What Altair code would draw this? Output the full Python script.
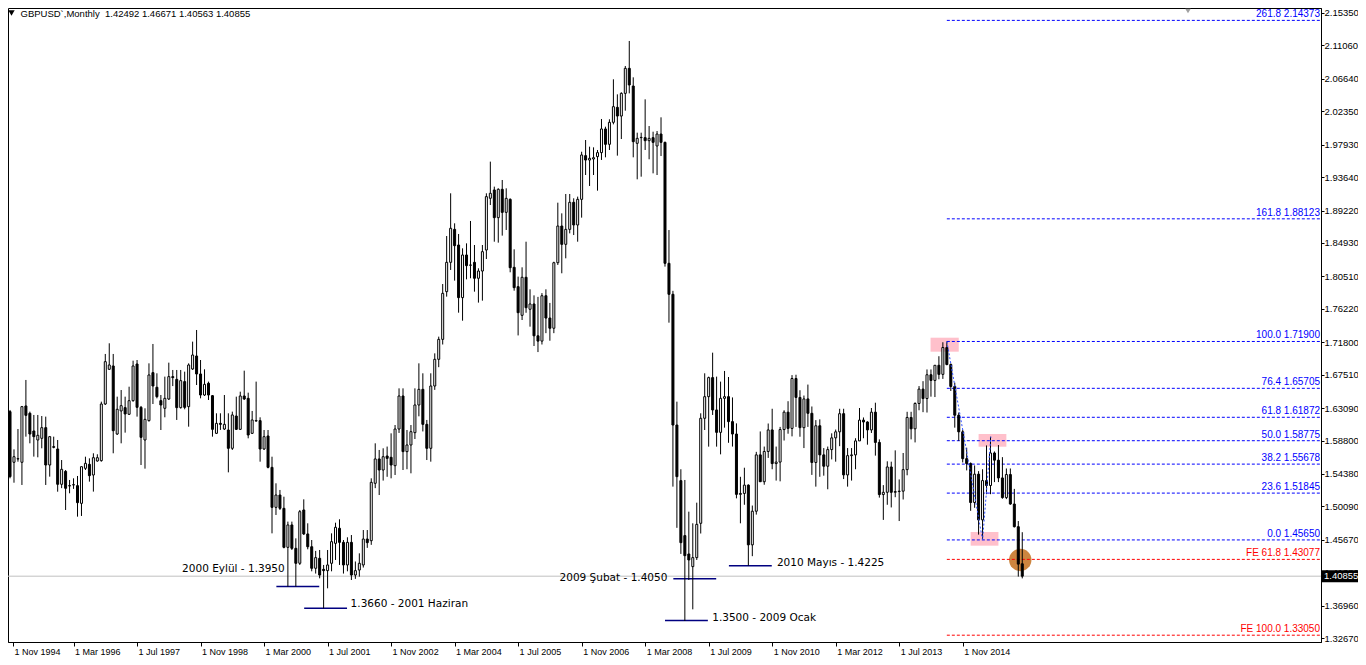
import altair as alt
import pandas as pd

# ---------------- monthly GBPUSD candles, Nov 1994 .. Feb 2016 ----------------
opens = [
    1.6262, 1.5592,  # 1994 Nov-Dec
    1.5636, 1.5592, 1.6337, 1.6240, 1.6006, 1.5887, 1.5909, 1.6050, 1.5556, 1.5799, 1.5768, 1.5301,  # 1995
    1.5472, 1.5283, 1.5292, 1.5283, 1.5049, 1.5512, 1.5565, 1.5424, 1.5609, 1.5614, 1.6363, 1.6822,  # 1996
    1.6866, 1.5966, 1.6271, 1.6315, 1.6227, 1.6407, 1.6892, 1.6319, 1.5887, 1.6143, 1.6778, 1.6584,  # 1997
    1.6407, 1.6306, 1.6429, 1.6725, 1.6689, 1.6315, 1.6659, 1.6328, 1.6826, 1.6998, 1.6760, 1.6482,  # 1998
    1.6637, 1.6473, 1.5975, 1.6107, 1.6032, 1.6019, 1.5777, 1.6204, 1.6028, 1.6469, 1.6438, 1.5975,  # 1999
    1.6143, 1.6143, 1.5768, 1.5940, 1.5525, 1.4996, 1.5159, 1.4983, 1.4467, 1.4763, 1.4454, 1.4256,  # 2000
    1.4961, 1.4644, 1.4475, 1.4190, 1.4322, 1.4176, 1.4159, 1.4256, 1.4520, 1.4719, 1.4533, 1.4234,  # 2001
    1.4533, 1.4101, 1.4167, 1.4234, 1.4577, 1.4555, 1.5314, 1.5636, 1.5490, 1.5675, 1.5658, 1.5547,  # 2002
    1.6032, 1.6469, 1.5733, 1.5821, 1.5984, 1.6350, 1.6557, 1.6094, 1.5777, 1.6601, 1.6954, 1.7218,  # 2003
    1.7849, 1.8237, 1.8673, 1.8466, 1.7770, 1.8334, 1.8198, 1.8237, 1.8026, 1.8122, 1.8400, 1.9084,  # 2004
    1.9194, 1.8828, 1.9203, 1.8898, 1.9070, 1.8171, 1.7915, 1.7536, 1.8039, 1.7616, 1.7686, 1.7265,  # 2005
    1.7195, 1.7795, 1.7500, 1.7365, 1.8232, 1.8717, 1.8475, 1.8673, 1.9031, 1.8731, 1.9070, 1.9648,  # 2006
    1.9590, 1.9604, 1.9635, 1.9688, 2.0001, 1.9798, 2.0089, 2.0287, 2.0172, 2.0472, 2.0803, 2.0569,  # 2007
    1.9811, 1.9886, 1.9886, 1.9846, 1.9886, 1.9776, 1.9934, 1.9824, 1.8224, 1.7814, 1.6085, 1.5349,  # 2008
    1.4622, 1.4379, 1.4212, 1.4331, 1.4785, 1.6174, 1.6460, 1.6712, 1.6284, 1.5988, 1.6438, 1.6460,  # 2009
    1.6130, 1.5966, 1.5168, 1.5180, 1.5290, 1.4500, 1.4945, 1.5690, 1.5335, 1.5735, 1.6020, 1.5575,  # 2010
    1.5595, 1.6025, 1.6255, 1.6040, 1.6700, 1.6450, 1.6050, 1.6430, 1.6240, 1.5590, 1.6075, 1.5690,  # 2011
    1.5540, 1.5760, 1.5915, 1.5995, 1.6235, 1.5425, 1.5680, 1.5690, 1.5875, 1.6150, 1.6125, 1.6020,  # 2012
    1.6255, 1.5855, 1.5165, 1.5195, 1.5530, 1.5195, 1.5205, 1.5210, 1.5495, 1.6185, 1.6035, 1.6370,  # 2013
    1.6560, 1.6435, 1.6750, 1.6675, 1.6875, 1.6755, 1.7110, 1.6885, 1.6595, 1.6215, 1.5995, 1.5640,  # 2014
    1.5575, 1.5060, 1.5435, 1.4830, 1.5350, 1.5285, 1.5715, 1.5620, 1.5385, 1.5125, 1.5430, 1.5040,  # 2015
    1.4740, 1.42492,  # 2016 Jan-Feb
]
highs = [
    1.6284, 1.5763,
    1.6032, 1.6337, 1.6681, 1.6262, 1.6218, 1.6218, 1.6204, 1.6196, 1.5940, 1.5931, 1.5887, 1.5622,
    1.5490, 1.5358, 1.5380, 1.5411, 1.5534, 1.5666, 1.5644, 1.5711, 1.5698, 1.6394, 1.7025, 1.7166,
    1.7025, 1.6460, 1.6548, 1.6460, 1.6592, 1.6936, 1.6945, 1.6337, 1.6306, 1.6901, 1.7157, 1.6769,
    1.6482, 1.6725, 1.6910, 1.6813, 1.6813, 1.6813, 1.6791, 1.6901, 1.7188, 1.7342, 1.6945, 1.6822,
    1.6659, 1.6482, 1.6240, 1.6240, 1.6482, 1.6240, 1.6262, 1.6460, 1.6526, 1.6804, 1.6513, 1.6271,
    1.6659, 1.6187, 1.6019, 1.6019, 1.5666, 1.5314, 1.5226, 1.5137, 1.4807, 1.4807, 1.4586, 1.4961,
    1.5102, 1.4785, 1.4564, 1.4420, 1.4432, 1.4234, 1.4432, 1.4652, 1.4793, 1.4838, 1.4564, 1.4600,
    1.4630, 1.4280, 1.4388, 1.4696, 1.4696, 1.5380, 1.5843, 1.5755, 1.5777, 1.5800, 1.5975, 1.6085,
    1.6570, 1.6570, 1.6019, 1.6085, 1.6570, 1.6901, 1.6769, 1.6152, 1.6769, 1.7033, 1.7254, 1.7950,
    1.8585, 1.9150, 1.8753, 1.8612, 1.8422, 1.8488, 1.8784, 1.8466, 1.8158, 1.8466, 1.9150, 1.9569,
    1.9238, 1.9216, 1.9326, 1.9216, 1.9083, 1.8409, 1.8048, 1.8171, 1.8510, 1.7880, 1.7800, 1.7780,
    1.7830, 1.7880, 1.7700, 1.8245, 1.9026, 1.8885, 1.9141, 1.9141, 1.9084, 1.9106, 1.9700, 1.9855,
    1.9767, 1.9758, 1.9723, 2.0133, 2.0031, 2.0129, 2.0658, 2.0459, 2.0486, 2.0834, 2.1165, 2.0684,
    1.9952, 1.9952, 2.0393, 2.0040, 1.9965, 1.9974, 2.0155, 1.9833, 1.8664, 1.7860, 1.6394, 1.5500,
    1.5358, 1.4939, 1.4785, 1.5058, 1.6240, 1.6769, 1.6725, 1.7042, 1.6725, 1.6659, 1.6800, 1.6720,
    1.6450, 1.6107, 1.5400, 1.5520, 1.5300, 1.5020, 1.5730, 1.6000, 1.5800, 1.6105, 1.6300, 1.5800,
    1.6060, 1.6280, 1.6400, 1.6745, 1.6750, 1.6545, 1.6475, 1.6620, 1.6330, 1.6150, 1.6160, 1.5780,
    1.5800, 1.5975, 1.6025, 1.6300, 1.6300, 1.5780, 1.5780, 1.5910, 1.6310, 1.6185, 1.6135, 1.6310,
    1.6380, 1.5895, 1.5290, 1.5605, 1.5600, 1.5750, 1.5365, 1.5715, 1.6260, 1.6260, 1.6385, 1.6600,
    1.6665, 1.6820, 1.6820, 1.6875, 1.6995, 1.7180, 1.7190, 1.6900, 1.6645, 1.6250, 1.6020, 1.5785,
    1.5590, 1.5550, 1.5475, 1.5500, 1.5815, 1.5930, 1.5735, 1.5820, 1.5660, 1.5510, 1.5510, 1.5240,
    1.4815, 1.46671,
]
lows = [
    1.5380, 1.5322,
    1.5600, 1.5292, 1.5931, 1.5843, 1.5667, 1.5658, 1.5777, 1.5292, 1.5402, 1.5777, 1.5203, 1.5250,
    1.4961, 1.5182, 1.5240, 1.4873, 1.4882, 1.5490, 1.5336, 1.5204, 1.5600, 1.5600, 1.6350, 1.6813,
    1.5711, 1.5953, 1.5843, 1.5984, 1.6218, 1.6394, 1.6196, 1.5556, 1.5508, 1.6130, 1.6363, 1.6438,
    1.6019, 1.6187, 1.6416, 1.6600, 1.6152, 1.6302, 1.6293, 1.6063, 1.6813, 1.6614, 1.6438, 1.6469,
    1.6416, 1.5931, 1.5966, 1.6020, 1.6019, 1.5459, 1.5755, 1.6019, 1.6019, 1.6416, 1.5909, 1.5966,
    1.6130, 1.5600, 1.5755, 1.5512, 1.4652, 1.4895, 1.4961, 1.4454, 1.3947, 1.4432, 1.3947, 1.4234,
    1.4630, 1.4441, 1.4150, 1.4120, 1.4057, 1.3660, 1.3925, 1.4150, 1.4300, 1.4234, 1.4120, 1.4150,
    1.4035, 1.4050, 1.4079, 1.4200, 1.4460, 1.4500, 1.5250, 1.5159, 1.5350, 1.5400, 1.5380, 1.5424,
    1.5980, 1.5490, 1.5500, 1.5446, 1.5900, 1.6200, 1.6000, 1.5622, 1.5600, 1.6550, 1.6850, 1.7150,
    1.7783, 1.8136, 1.7995, 1.7571, 1.7465, 1.8012, 1.8026, 1.7849, 1.7704, 1.7730, 1.8281, 1.8995,
    1.8510, 1.8497, 1.8590, 1.8665, 1.8105, 1.7862, 1.7270, 1.7474, 1.7570, 1.7386, 1.7130, 1.7050,
    1.7150, 1.7300, 1.7200, 1.7300, 1.8202, 1.8092, 1.8290, 1.8620, 1.8598, 1.8510, 1.8828, 1.9392,
    1.9247, 1.9392, 1.9185, 1.9591, 1.9626, 1.9723, 2.0062, 1.9648, 1.9868, 2.0243, 2.0472, 1.9626,
    1.9335, 1.9370, 1.9723, 1.9600, 1.9414, 1.9392, 1.9643, 1.8180, 1.7439, 1.5270, 1.4725, 1.4380,
    1.3493, 1.4035, 1.3647, 1.4300, 1.4650, 1.6019, 1.5799, 1.6218, 1.5799, 1.5697, 1.6050, 1.5850,
    1.5800, 1.5115, 1.4785, 1.5030, 1.4225, 1.4350, 1.4900, 1.5340, 1.5295, 1.5650, 1.5500, 1.5350,
    1.5340, 1.5880, 1.5970, 1.5935, 1.6060, 1.5930, 1.5780, 1.6060, 1.5425, 1.5270, 1.5400, 1.5415,
    1.5235, 1.5630, 1.5600, 1.5805, 1.5370, 1.5270, 1.5350, 1.5500, 1.5880, 1.5910, 1.5825, 1.5980,
    1.5680, 1.5125, 1.4830, 1.5030, 1.4995, 1.5130, 1.4815, 1.5100, 1.5420, 1.5895, 1.5855, 1.6280,
    1.6255, 1.6250, 1.6460, 1.6455, 1.6690, 1.6695, 1.6875, 1.6535, 1.6050, 1.5875, 1.5590, 1.5485,
    1.4950, 1.4990, 1.4635, 1.4565, 1.5170, 1.5170, 1.5330, 1.5330, 1.5110, 1.5105, 1.5030, 1.4730,
    1.4080, 1.40563,
]
closes = [
    1.5402, 1.5666,
    1.5640, 1.6328, 1.6213, 1.5966, 1.5931, 1.5949, 1.6050, 1.5556, 1.5931, 1.5790, 1.5301, 1.5499,
    1.5248, 1.5279, 1.5296, 1.5058, 1.5534, 1.5578, 1.5415, 1.5653, 1.5653, 1.6363, 1.6923, 1.6879,
    1.6010, 1.6293, 1.6341, 1.6231, 1.6407, 1.6866, 1.6319, 1.5922, 1.6160, 1.6747, 1.6601, 1.6460,
    1.6350, 1.6438, 1.6725, 1.6712, 1.6315, 1.6672, 1.6319, 1.6879, 1.7011, 1.6760, 1.6482, 1.6623,
    1.6482, 1.6028, 1.6107, 1.6094, 1.6094, 1.5777, 1.6218, 1.6028, 1.6469, 1.6429, 1.5953, 1.6152,
    1.6138, 1.5768, 1.5931, 1.5525, 1.4996, 1.5159, 1.4983, 1.4467, 1.4763, 1.4454, 1.4256, 1.4939,
    1.4644, 1.4475, 1.4190, 1.4331, 1.4101, 1.4159, 1.4234, 1.4542, 1.4732, 1.4533, 1.4234, 1.4533,
    1.4101, 1.4159, 1.4256, 1.4577, 1.4529, 1.5327, 1.5636, 1.5490, 1.5666, 1.5644, 1.5556, 1.6032,
    1.6469, 1.5733, 1.5821, 1.5997, 1.6350, 1.6557, 1.6094, 1.5777, 1.6601, 1.6954, 1.7218, 1.7827,
    1.8237, 1.8687, 1.8457, 1.7770, 1.8334, 1.8193, 1.8202, 1.8026, 1.8122, 1.8378, 1.9106, 1.9150,
    1.8828, 1.9203, 1.8898, 1.9083, 1.8166, 1.7902, 1.7571, 1.8039, 1.7637, 1.7686, 1.7265, 1.7195,
    1.7795, 1.7500, 1.7365, 1.8232, 1.8717, 1.8475, 1.8673, 1.9031, 1.8731, 1.9070, 1.9657, 1.9590,
    1.9613, 1.9621, 1.9688, 2.0001, 1.9798, 2.0089, 2.0296, 2.0172, 2.0472, 2.0803, 2.0583, 1.9833,
    1.9877, 1.9890, 1.9846, 1.9877, 1.9824, 1.9934, 1.9824, 1.8224, 1.7814, 1.6085, 1.5402, 1.4529,
    1.4357, 1.4300, 1.4331, 1.4771, 1.6174, 1.6460, 1.6712, 1.6284, 1.5988, 1.6438, 1.6460, 1.6130,
    1.5966, 1.5168, 1.5180, 1.5290, 1.4500, 1.4945, 1.5690, 1.5335, 1.5735, 1.6020, 1.5575, 1.5595,
    1.6025, 1.6255, 1.6040, 1.6700, 1.6450, 1.6050, 1.6430, 1.6240, 1.5590, 1.6075, 1.5690, 1.5540,
    1.5760, 1.5915, 1.5995, 1.6235, 1.5425, 1.5680, 1.5690, 1.5875, 1.6150, 1.6125, 1.6020, 1.6255,
    1.5855, 1.5165, 1.5195, 1.5530, 1.5195, 1.5205, 1.5210, 1.5495, 1.6185, 1.6035, 1.6370, 1.6560,
    1.6435, 1.6750, 1.6675, 1.6875, 1.6755, 1.7110, 1.6885, 1.6595, 1.6215, 1.5995, 1.5640, 1.5575,
    1.5060, 1.5435, 1.4830, 1.5350, 1.5285, 1.5715, 1.5620, 1.5385, 1.5125, 1.5430, 1.5040, 1.4740,
    1.4245, 1.40855,
]

# axis labels
x_tick_labels = ["1 Nov 1994", "1 Mar 1996", "1 Jul 1997", "1 Nov 1998", "1 Mar 2000",
                 "1 Jul 2001", "1 Nov 2002", "1 Mar 2004", "1 Jul 2005", "1 Nov 2006",
                 "1 Mar 2008", "1 Jul 2009", "1 Nov 2010", "1 Mar 2012", "1 Jul 2013",
                 "1 Nov 2014"]
y_ticks = [2.15350, 2.11060, 2.06640, 2.02350, 1.97930, 1.93640, 1.89220, 1.84930,
           1.80510, 1.76220, 1.71800, 1.67510, 1.63090, 1.58800, 1.54380, 1.50090,
           1.45670, 1.41380, 1.36960, 1.32670]

# Fibonacci levels (start at Jul 2014 bar)
fib_labels = ["261.8 2.14373", "161.8 1.88123", "100.0 1.71900", "76.4 1.65705",
              "61.8 1.61872", "50.0 1.58775", "38.2 1.55678", "23.6 1.51845",
              "0.0 1.45650", "FE 61.8 1.43077", "FE 100.0 1.33050"]
fib_prices = [2.14373, 1.88123, 1.71900, 1.65705, 1.61872, 1.58775, 1.55678, 1.51845,
              1.45650, 1.43077, 1.33050]
fib_kind = ["ret"] * 9 + ["fe"] * 2
fib_start = 236

# zigzag of the fibo swing (bar index, price)
swing_idx = [236, 245, 247.1]
swing_price = [1.7190, 1.4565, 1.5931]

# pink marker boxes (bar range, price range)
box_x1 = [231.9, 244.0, 242.0]
box_x2 = [239.0, 251.0, 249.0]
box_y1 = [1.7240, 1.5966, 1.4670]
box_y2 = [1.7055, 1.5798, 1.4489]

# brown marker
dot_idx = [254.5]
dot_price = [1.4300]

# support lines and their captions
seg_x1 = [67.1, 74.1, 167.1, 165.0, 181.1]
seg_x2 = [77.9, 84.9, 177.9, 175.8, 191.9]
seg_price = [1.3950, 1.3660, 1.4050, 1.3500, 1.4225]
ann_text = ["2000 Eylül - 1.3950", "1.3660 - 2001 Haziran", "2009 Şubat - 1.4050",
            "1.3500 - 2009 Ocak", "2010 Mayıs - 1.4225"]
ann_idx = [69.2, 85.8, 165.6, 176.9, 193.2]
ann_price = [1.4137, 1.3682, 1.4026, 1.3493, 1.4220]
ann_align = ["right", "left", "right", "left", "left"]

last_price = 1.40855
header = "GBPUSD`,Monthly\u00a0 1.42492 1.46671 1.40563 1.40855"

# ---------------- frames ----------------
n = len(opens)
candles = pd.DataFrame({
    "idx": list(range(n)),
    "open": opens,
    "close": closes,
    "high": [max(h, o, c) for h, o, c in zip(highs, opens, closes)],
    "low": [min(l, o, c) for l, o, c in zip(lows, opens, closes)],
    "dir": ["up" if c >= o else "down" for o, c in zip(opens, closes)],
})
fib_df = pd.DataFrame({"label": fib_labels, "price": fib_prices, "kind": fib_kind,
                       "start": [fib_start] * len(fib_prices)})
swing_df = pd.DataFrame({"idx": swing_idx, "price": swing_price, "o": list(range(len(swing_idx)))})
box_df = pd.DataFrame({"x1": box_x1, "x2": box_x2, "y1": box_y1, "y2": box_y2})
dot_df = pd.DataFrame({"idx": dot_idx, "price": dot_price})
seg_df = pd.DataFrame({"x1": seg_x1, "x2": seg_x2, "price": seg_price})
ann_df = pd.DataFrame({"text": ann_text, "idx": ann_idx, "price": ann_price, "align": ann_align})
last_df = pd.DataFrame({"price": [last_price], "label": [f"{last_price:.5f}"]})
head_df = pd.DataFrame({"t": [header]})

W, H = 1313, 634
FONT = "Liberation Sans"
ANN_FONT = "DejaVu Sans"
xs = alt.Scale(domain=[0.75, 329.0], nice=False, zero=False)
ys = alt.Scale(domain=[1.32149, 2.16011], nice=False, zero=False)

label_expr = "[" + ",".join(f"'{s}'" for s in x_tick_labels) + "][floor(datum.value / 16)]"
x_axis = alt.Axis(values=[0.75] + [16 * k for k in range(1, len(x_tick_labels))],
                  labelExpr=label_expr, title=None, grid=False, tickSize=4,
                  tickColor="black", domainColor="black", labelColor="black",
                  labelFont=FONT, labelFontSize=9, labelAlign="left", labelBaseline="top",
                  labelPadding=1, labelOffset=1, labelOverlap=False, labelFlush=False,
                  labelBound=False)
y_axis = alt.Axis(values=y_ticks, format=".5f", orient="right", title=None, grid=False,
                  tickSize=3, labelPadding=0, labelFont=FONT, labelFontSize=9.5,
                  labelColor="black", tickColor="black", domainColor="black",
                  labelOverlap=False, labelFlush=False, labelBound=False)


def X(f):
    return alt.X(f, type="quantitative", scale=xs, axis=x_axis)


def Y(f):
    return alt.Y(f, type="quantitative", scale=ys, axis=y_axis)


boxes = alt.Chart(box_df).mark_rect(color="#ffc0cb", opacity=1).encode(
    x=X("x1"), x2="x2", y=Y("y1"), y2="y2")

dot = alt.Chart(dot_df).mark_circle(size=500, color="#cd853f", opacity=1).encode(
    x=X("idx"), y=Y("price"))

price_line = alt.Chart(last_df).mark_rule(color="#c0c0c0", strokeWidth=1).encode(
    y=Y("price"))

fib_colors = alt.Scale(domain=["ret", "fe"], range=["#0000ff", "#ff0000"])
fib_lines = alt.Chart(fib_df).mark_rule(strokeDash=[3, 2], strokeWidth=1).encode(
    x=X("start"), x2=alt.value(W), y=Y("price"),
    color=alt.Color("kind:N", scale=fib_colors, legend=None))

segs = alt.Chart(seg_df).mark_rule(color="#000080", strokeWidth=1.5).encode(
    x=X("x1"), x2="x2", y=Y("price"))

wicks = alt.Chart(candles).mark_rule(color="black", strokeWidth=1).encode(
    x=X("idx"), y=Y("low"), y2="high:Q")

bodies = alt.Chart(candles).mark_bar(size=2, stroke="black", strokeWidth=1).encode(
    x=X("idx"), y=Y("open"), y2="close:Q",
    fill=alt.Fill("dir:N", scale=alt.Scale(domain=["up", "down"], range=["white", "black"]),
                  legend=None))

swing = alt.Chart(swing_df).mark_line(color="#3050ff", strokeWidth=1, strokeDash=[2, 2]).encode(
    x=X("idx"), y=Y("price"), order="o:Q")

fib_text = alt.Chart(fib_df).mark_text(align="right", baseline="alphabetic", dy=-3,
                                       font=FONT, fontSize=10).encode(
    x=alt.value(W - 1), y=Y("price"), text="label:N",
    color=alt.Color("kind:N", scale=fib_colors, legend=None))

ann_left = alt.Chart(ann_df).transform_filter(alt.datum.align == "left").mark_text(
    align="left", baseline="alphabetic", font=ANN_FONT, fontSize=10.5, color="black").encode(
    x=X("idx"), y=Y("price"), text="text:N")
ann_right = alt.Chart(ann_df).transform_filter(alt.datum.align == "right").mark_text(
    align="right", baseline="alphabetic", font=ANN_FONT, fontSize=10.5, color="black").encode(
    x=X("idx"), y=Y("price"), text="text:N")

box_shape = "M-1,-0.2727L1,-0.2727L1,0.2727L-1,0.2727Z"
last_box = alt.Chart(last_df).mark_point(shape=box_shape, size=1936, filled=True,
                                         color="black", opacity=1).encode(
    x=alt.value(W + 22), y=Y("price"))
last_text = alt.Chart(last_df).mark_text(align="left", baseline="middle", font=FONT,
                                         fontSize=9.5, color="white").encode(
    x=alt.value(W + 3), y=Y("price"), text="label:N")

head_tri = alt.Chart(head_df).mark_point(shape="triangle-down", size=40, filled=True,
                                         color="black", opacity=1).encode(
    x=alt.value(3.5), y=alt.value(5))
head_text = alt.Chart(head_df).mark_text(align="left", baseline="alphabetic", font=FONT,
                                         fontSize=9.5, color="black").encode(
    x=alt.value(12.5), y=alt.value(8.7), text="t:N")
shift_tri = alt.Chart(head_df).mark_point(shape="triangle-down", size=30, filled=True,
                                          color="#a0a0a0", opacity=1).encode(
    x=alt.value(1180), y=alt.value(3))

chart = alt.layer(
    boxes, dot, price_line, fib_lines, segs, wicks, bodies, swing,
    fib_text, ann_left, ann_right, last_box, last_text, head_tri, head_text, shift_tri,
).properties(
    width=W, height=H,
    padding={"left": 0, "top": 0, "right": 37, "bottom": 15},
    autosize=alt.AutoSizeParams(type="none"),
).configure(font=FONT).configure_view(stroke="black", strokeWidth=1)

chart.save("out.html", embed_options={"renderer": "svg", "actions": False})
